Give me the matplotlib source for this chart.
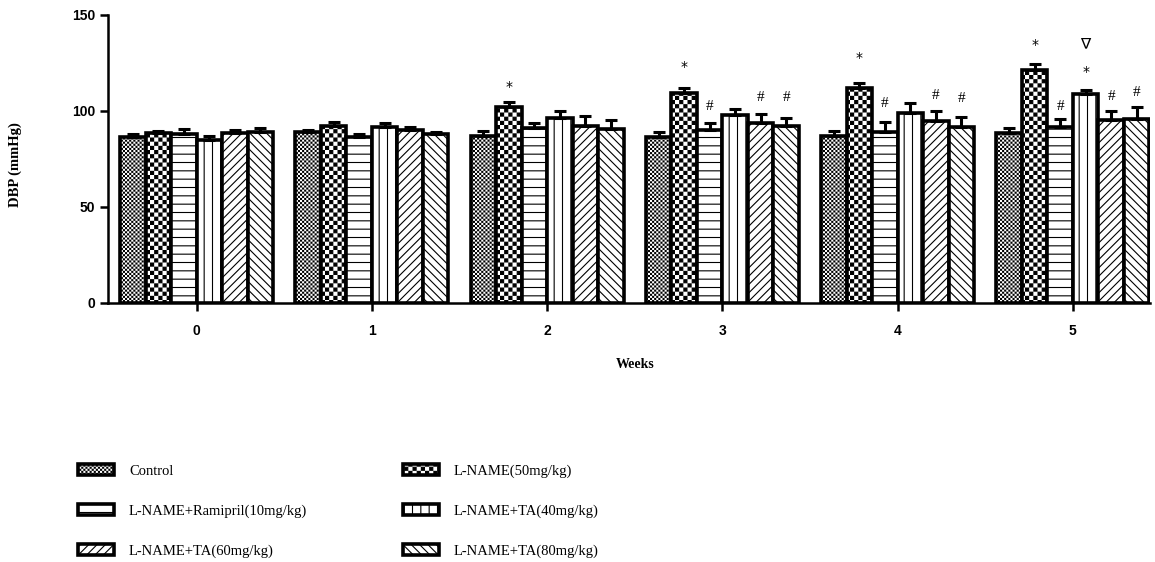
import warnings
warnings.filterwarnings("ignore")
import numpy as np
import matplotlib
matplotlib.use("Agg")
import matplotlib.pyplot as plt
import matplotlib.hatch as mhatch
from matplotlib.path import Path

# ---------------- data ----------------
weeks = [0, 1, 2, 3, 4, 5]
series_names = ["Control", "L-NAME(50mg/kg)", "L-NAME+Ramipril(10mg/kg)",
                "L-NAME+TA(40mg/kg)", "L-NAME+TA(60mg/kg)", "L-NAME+TA(80mg/kg)"]
control = [86.7, 89.2, 87.2, 86.7, 87.0, 88.4]
lname = [88.4, 92.4, 102.3, 109.3, 111.9, 121.4]
ramipril = [87.9, 86.7, 91.0, 90.2, 89.0, 91.9]
ta40 = [84.9, 91.7, 96.6, 98.0, 99.2, 108.7]
ta60 = [88.4, 90.2, 92.4, 93.7, 94.8, 95.4]
ta80 = [89.2, 88.2, 90.7, 92.4, 91.6, 95.7]

sem_control = [1.5, 1.0, 2.6, 2.5, 2.6, 2.6]
sem_lname = [1.4, 1.8, 2.3, 2.9, 2.6, 3.0]
sem_ramipril = [2.8, 1.5, 2.7, 3.8, 5.2, 4.0]
sem_ta40 = [2.3, 1.8, 3.4, 3.1, 4.9, 2.3]
sem_ta60 = [1.8, 1.7, 5.2, 4.6, 5.2, 4.6]
sem_ta80 = [2.0, 1.0, 4.7, 4.2, 5.5, 6.5]

# significance marks: week, series index, symbol, height
ann_week = [2, 3, 3, 3, 3, 4, 4, 4, 4, 5, 5, 5, 5, 5, 5]
ann_series = [1, 1, 2, 4, 5, 1, 2, 4, 5, 1, 3, 3, 2, 4, 5]
ann_symbol = ["*", "*", "#", "#", "#", "*", "#", "#", "#", "*", "\u2207", "*", "#", "#", "#"]
ann_y = [112.7, 123.1, 102.2, 107.1, 107.1, 127.4, 104.0, 108.3, 106.6,
         134.4, 134.4, 120.5, 102.6, 107.5, 109.5]

yticks = [0, 50, 100, 150]

# ---------------- custom checkerboard hatch ----------------
HATCH_LW = 0.8
plt.rcParams["hatch.linewidth"] = HATCH_LW
plt.rcParams["hatch.color"] = "black"


class CheckerHatch(mhatch.HatchPatternBase):
    def __init__(self, hatch, density):
        self.n = hatch.count("c") * density
        self.num_vertices = (self.n * self.n // 2) * 5 if self.n else 0

    def set_vertices_and_codes(self, vertices, codes):
        n = self.n
        s = 1.0 / n
        pad = HATCH_LW / 72.0 / 2.0
        k = 0
        for i in range(n):
            for j in range(n):
                if (i + j) % 2 == 0:
                    x0, y0 = j * s + pad, i * s + pad
                    x1, y1 = (j + 1) * s - pad, (i + 1) * s - pad
                    vertices[k:k + 5] = [[x0, y0], [x1, y0], [x1, y1], [x0, y1], [x0, y0]]
                    codes[k:k + 5] = [Path.MOVETO, Path.LINETO, Path.LINETO,
                                      Path.LINETO, Path.CLOSEPOLY]
                    k += 5


mhatch._hatch_types.append(CheckerHatch)

# ---------------- figure ----------------
fig = plt.figure(figsize=(11.55, 5.62), dpi=100)
ax = fig.add_axes([108 / 1155, 1 - 303 / 562, (1150 - 108) / 1155, 288 / 562])

values = [control, lname, ramipril, ta40, ta60, ta80]
sems = [sem_control, sem_lname, sem_ramipril, sem_ta40, sem_ta60, sem_ta80]
hatches = ["cccccccc", "cccc", "--", "||", "////", "\\\\\\\\"]

x = np.arange(len(weeks))
width = 0.1455
handles = []
for i, (vals, err, h, name) in enumerate(zip(values, sems, hatches, series_names)):
    pos = x + (i - 2.5) * width
    bars = ax.bar(pos, vals, width=width, facecolor="white", edgecolor="black",
                  linewidth=2.6, hatch=h, label=name, zorder=1)
    handles.append(bars)
    ax.errorbar(pos, vals, yerr=[np.zeros(len(vals)), err], fmt="none",
                ecolor="black", elinewidth=2.2, capsize=4.3, capthick=2.2, zorder=3)

for wk, si, sym, yy in zip(ann_week, ann_series, ann_symbol, ann_y):
    xp = x[wk] + (si - 2.5) * width
    if sym == "*":
        ax.text(xp, yy, sym, ha="center", va="center", fontsize=10,
                family=["DejaVu Sans"], zorder=4)
    else:
        ax.text(xp, yy, sym, ha="center", va="center", fontsize=11,
                family=["Liberation Serif", "DejaVu Sans"], zorder=4)

ax.set_xlim(-0.506, 5.44)
ax.set_ylim(0, 150)
ax.set_xticks(x)
ax.set_xticklabels([str(w) for w in weeks])
ax.set_yticks(yticks)
ax.set_yticklabels([str(t) for t in yticks])
for sp in ["top", "right"]:
    ax.spines[sp].set_visible(False)
for sp in ["left", "bottom"]:
    ax.spines[sp].set_linewidth(1.8)
ax.tick_params(axis="both", direction="out", width=1.8, length=6)
ax.tick_params(axis="x", pad=9)
ax.tick_params(axis="y", pad=3)
for lab in ax.get_xticklabels() + ax.get_yticklabels():
    lab.set_fontfamily("Liberation Sans")
    lab.set_fontweight("bold")
    lab.set_fontsize(10)

fig.text(15 / 1155, 1 - 165 / 562, "DBP (mmHg)", rotation=90, ha="center", va="center",
         fontsize=10.5, fontweight="bold", family="Liberation Serif")
fig.text(635 / 1155, 1 - 365 / 562, "Weeks", ha="center", va="center",
         fontsize=10, fontweight="bold", family="Liberation Serif")

leg_kw = dict(frameon=False, prop={"family": "Liberation Serif", "size": 10.5},
              handlelength=2.5, handleheight=0.8, handletextpad=1.0,
              labelspacing=1.8, borderpad=0, borderaxespad=0, loc="upper left")
leg1 = fig.legend([handles[0], handles[2], handles[4]],
                  [series_names[0], series_names[2], series_names[4]],
                  bbox_to_anchor=(78 / 1155, 1 - 464 / 562), **leg_kw)
leg2 = fig.legend([handles[1], handles[3], handles[5]],
                  [series_names[1], series_names[3], series_names[5]],
                  bbox_to_anchor=(403 / 1155, 1 - 464 / 562), **leg_kw)

fig.savefig("out.png", dpi=100)
